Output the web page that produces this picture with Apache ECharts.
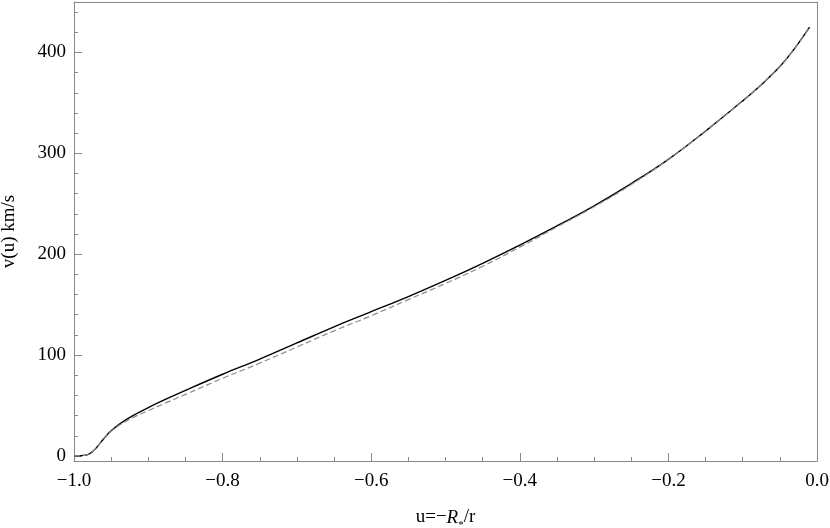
<!DOCTYPE html>
<html>
<head>
<meta charset="utf-8">
<script src="https://cdn.jsdelivr.net/npm/echarts@6/dist/echarts.min.js"></script>
<style>
  html, body { margin: 0; padding: 0; background: #fff; }
  #chart { width: 830px; height: 528px; }
</style>
</head>
<body>
<div id="chart"></div>
<script>
// u = -R*/r
const uValues = [-1.0, -0.99, -0.985, -0.98, -0.975, -0.97, -0.96, -0.95, -0.93, -0.90, -0.88, -0.85,
  -0.80, -0.75, -0.70, -0.65, -0.60, -0.55, -0.50, -0.45, -0.40, -0.35, -0.30, -0.25,
  -0.20, -0.15, -0.10, -0.075, -0.05, -0.03, -0.01];
// solid curve, km/s
const vSolid = [0, 0.3, 0.8, 1.8, 4.5, 8, 17, 25, 36, 48, 55, 65,
  81, 96, 112, 128, 143, 158, 174, 191, 209, 228, 248, 270,
  294, 322, 352, 368, 386, 404, 425];
// dashed curve, km/s
const vDashed = [0, 0.3, 0.8, 1.8, 4.5, 8, 17, 24.5, 34.5, 45, 51.5, 61,
  77, 92, 108, 124, 139, 155, 171, 188, 207, 227, 247, 269,
  294, 322, 352, 368, 386, 404, 425];

// y range of the frame and the tick ranges
const yMin = -5, yMax = 450;
const yMajorMax = 400, yMinorMax = 440;

const serif = '"Liberation Serif", "DejaVu Serif", serif';
const frameColor = '#888';
const W = 830, H = 528;
const gL = 74, gR = 13, gT = 2, gB = 67;

// pixel row of a value inside the main grid
function rowOf(v) {
  const h = H - gT - gB;
  return H - gB - (v - yMin) * h / (yMax - yMin);
}

const chart = echarts.init(document.getElementById('chart'));

function fmtX(v) {
  const s = Math.abs(v).toFixed(1);
  return v < -1e-9 ? '\u2212' + s : s;
}

const hiddenX = (i) => ({ type: 'value', gridIndex: i, min: -1, max: 0, show: false });
// plain frame line, no ticks or labels
const frameLine = { show: true, onZero: false, lineStyle: { color: frameColor, width: 1 } };

const option = {
  animation: false,
  grid: [{
    left: gL, right: gR, top: gT, bottom: gB,
    outerBoundsMode: 'none'
  }, {
    // major ticks + labels, 0..400
    left: gL, right: gR, top: rowOf(yMajorMax), bottom: H - rowOf(0),
    outerBoundsMode: 'none'
  }, {
    // minor ticks, 0..440 every 20
    left: gL, right: gR, top: rowOf(yMinorMax), bottom: H - rowOf(0),
    outerBoundsMode: 'none'
  }],
  xAxis: [{
    type: 'value',
    gridIndex: 0,
    min: -1, max: 0, interval: 0.2,
    name: '{n|u=\u2212}{i|R}{s|*}{n|/r}',
    nameLocation: 'middle',
    nameGap: 47,
    nameTextStyle: {
      rich: {
        n: { fontFamily: serif, fontSize: 19, color: '#000' },
        i: { fontFamily: serif, fontSize: 19, fontStyle: 'italic', color: '#000' },
        s: { fontFamily: serif, fontSize: 11, color: '#000', verticalAlign: 'bottom', padding: [0, 0, -4, 0] }
      }
    },
    axisLine: frameLine,
    axisTick: { inside: true, length: 8, lineStyle: { color: frameColor } },
    minorTick: { show: true, splitNumber: 4, length: 4, lineStyle: { color: frameColor } },
    splitLine: { show: false },
    axisLabel: {
      fontFamily: serif, fontSize: 19, color: '#000', margin: 11,
      formatter: fmtX
    }
  }, {
    // top edge of the frame
    type: 'value', gridIndex: 0, position: 'top', min: -1, max: 0,
    axisLine: frameLine, axisTick: { show: false }, axisLabel: { show: false }, splitLine: { show: false }
  }, hiddenX(1), hiddenX(2)],
  yAxis: [{
    type: 'value',
    gridIndex: 0,
    min: yMin, max: yMax,
    name: 'v(u) km/s',
    nameLocation: 'middle',
    nameGap: 55,
    nameTextStyle: { fontFamily: serif, fontSize: 19, color: '#000' },
    axisLine: frameLine,
    axisTick: { show: false },
    axisLabel: { show: false },
    splitLine: { show: false }
  }, {
    // right edge of the frame
    type: 'value', gridIndex: 0, position: 'right', min: yMin, max: yMax,
    axisLine: frameLine, axisTick: { show: false }, axisLabel: { show: false }, splitLine: { show: false }
  }, {
    type: 'value',
    gridIndex: 1,
    position: 'left',
    min: 0, max: yMajorMax, interval: 100,
    axisLine: { show: false, onZero: false },
    axisTick: { inside: true, length: 8, lineStyle: { color: frameColor } },
    axisLabel: { fontFamily: serif, fontSize: 19, color: '#000', margin: 8 },
    splitLine: { show: false }
  }, {
    type: 'value',
    gridIndex: 2,
    position: 'left',
    min: 0, max: yMinorMax, interval: 20,
    axisLine: { show: false, onZero: false },
    axisTick: { inside: true, length: 4, lineStyle: { color: frameColor } },
    axisLabel: { show: false },
    splitLine: { show: false }
  }],
  series: [{
    type: 'line',
    xAxisIndex: 0, yAxisIndex: 0,
    data: uValues.map((u, i) => [u, vSolid[i]]),
    showSymbol: false,
    smooth: 0.4,
    lineStyle: { color: '#000', width: 1.4 },
    z: 2
  }, {
    type: 'line',
    xAxisIndex: 0, yAxisIndex: 0,
    data: uValues.map((u, i) => [u, vDashed[i]]),
    showSymbol: false,
    smooth: 0.4,
    lineStyle: { color: '#8a8a8a', width: 1.2, type: [6, 3] },
    z: 3
  }]
};
chart.setOption(option);
</script>
</body>
</html>
